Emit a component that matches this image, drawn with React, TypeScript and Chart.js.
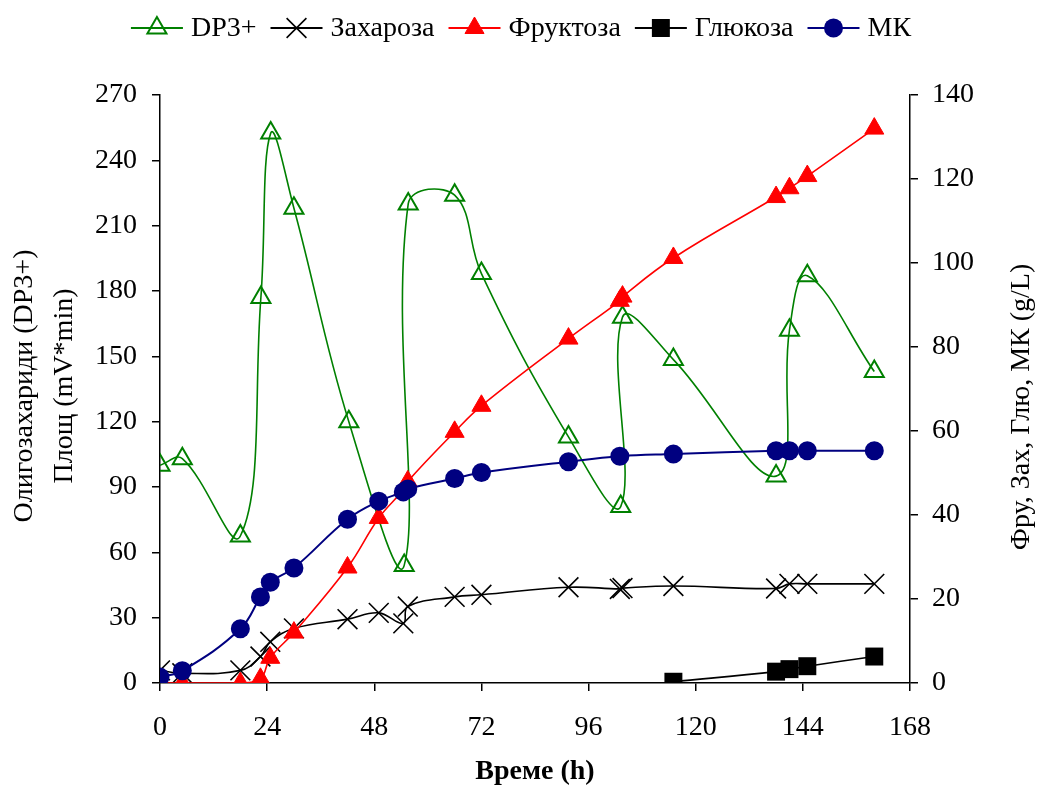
import React, { useEffect, useRef } from "react";
import { Chart, registerables } from "chart.js";

Chart.register(...registerables);

// Time axis (hours) and per-series measurements
const dp3Hours = [0, 5, 18, 22.6, 24.8, 30, 42.3, 54.7, 55.6, 66, 72, 91.5, 103.2, 103.6, 115, 138, 141, 145, 160];
const dp3Area = [100, 103, 67.5, 177, 252.5, 218, 120, 54, 220, 224, 188, 113, 81, 168, 148.5, 95, 162, 187, 143];

const sucroseHours = [0, 5, 18, 22.5, 24.7, 30, 42, 49, 54.5, 55.5, 66, 72, 91.5, 103, 103.6, 115, 138, 141, 145, 160];
const sucrose = [3, 2.3, 3, 6.3, 9.8, 13, 15.2, 16.7, 14.2, 18.2, 20.5, 21, 22.8, 22.4, 22.6, 23.1, 22.5, 23.6, 23.6, 23.6];

const fructoseHours = [0, 5, 18, 22.5, 24.7, 30, 42, 49, 54.5, 55.5, 66, 72, 91.5, 103, 103.6, 115, 138, 141, 145, 160];
const fructose = [0, 0, 0, 1, 6, 12, 27.5, 39.3, 46, 48, 59.8, 66, 82, 91, 92, 101.2, 115.7, 117.8, 120.7, 132];

const glucoseHours = [115, 138, 141, 145, 160];
const glucose = [0.3, 2.7, 3.3, 4, 6.3];

const mkHours = [0, 5, 18, 22.5, 24.7, 30, 42, 49, 54.5, 55.5, 66, 72, 91.5, 103, 115, 138, 141, 145, 160];
const mk = [1.4, 2.9, 12.9, 20.5, 24, 27.4, 39, 43.3, 45.5, 46.2, 48.7, 50.1, 52.7, 54, 54.5, 55.3, 55.3, 55.3, 55.3];

const seriesNames = ["DP3+", "Захароза", "Фруктоза", "Глюкоза", "МК"];
const leftTitle = ["Олигозахариди (DP3+)", "Площ (mV*min)"];
const rightTitle = "Фру, Зах, Глю, МК (g/L)";
const xTitle = "Време (h)";

const FONT = "'Liberation Serif', 'Times New Roman', serif";
const GREEN = "#008000";
const RED = "#ff0000";
const NAVY = "#000080";
const BLACK = "#000000";

const toPoints = (hours: number[], values: number[]) =>
  hours.map((h, i) => ({ x: h, y: values[i] }));

type MarkerStyle = {
  shape: "triangle" | "crossRot" | "rect" | "circle";
  color: string;
  fill: string;
  radius: number;
  lineWidth: number;
};

const markers: MarkerStyle[] = [
  { shape: "triangle", color: GREEN, fill: "rgba(0,0,0,0)", radius: 11, lineWidth: 2 },
  { shape: "crossRot", color: BLACK, fill: BLACK, radius: 14, lineWidth: 1.6 },
  { shape: "triangle", color: RED, fill: RED, radius: 11, lineWidth: 1 },
  { shape: "rect", color: BLACK, fill: BLACK, radius: 12.7, lineWidth: 1 },
  { shape: "circle", color: NAVY, fill: NAVY, radius: 9.5, lineWidth: 1 },
];

function drawMarker(ctx: CanvasRenderingContext2D, m: MarkerStyle, x: number, y: number) {
  ctx.save();
  ctx.strokeStyle = m.color;
  ctx.fillStyle = m.fill;
  ctx.lineWidth = m.lineWidth;
  ctx.beginPath();
  const r = m.radius;
  if (m.shape === "triangle") {
    ctx.moveTo(x, y - r);
    ctx.lineTo(x + r * 0.866, y + r / 2);
    ctx.lineTo(x - r * 0.866, y + r / 2);
    ctx.closePath();
    ctx.fill();
    ctx.stroke();
  } else if (m.shape === "crossRot") {
    const d = r * Math.SQRT1_2;
    ctx.moveTo(x - d, y - d);
    ctx.lineTo(x + d, y + d);
    ctx.moveTo(x - d, y + d);
    ctx.lineTo(x + d, y - d);
    ctx.stroke();
  } else if (m.shape === "rect") {
    const s = r * Math.SQRT1_2;
    ctx.rect(x - s, y - s, 2 * s, 2 * s);
    ctx.fill();
  } else {
    ctx.arc(x, y, r, 0, Math.PI * 2);
    ctx.fill();
  }
  ctx.restore();
}

const lineColors = [GREEN, BLACK, RED, BLACK, NAVY];

// Legend across the top and the axis titles
const decorPlugin = {
  id: "decor",
  afterDraw(chart: Chart) {
    const ctx = chart.ctx;
    const area = chart.chartArea;
    ctx.save();
    ctx.fillStyle = BLACK;
    ctx.textBaseline = "middle";

    // legend
    ctx.font = `28px ${FONT}`;
    const lineLen = 52;
    const textGap = 8;
    const itemGap = 14;
    const widths = seriesNames.map((n) => ctx.measureText(n).width);
    const total = widths.reduce((a, w) => a + lineLen + textGap + w, 0) + itemGap * (seriesNames.length - 1);
    let x = 521 - total / 2;
    const ly = 28;
    seriesNames.forEach((name, i) => {
      ctx.strokeStyle = lineColors[i];
      ctx.lineWidth = 1.8;
      ctx.beginPath();
      ctx.moveTo(x, ly);
      ctx.lineTo(x + lineLen, ly);
      ctx.stroke();
      drawMarker(ctx, markers[i], x + lineLen / 2, ly);
      ctx.fillStyle = BLACK;
      ctx.textAlign = "left";
      ctx.fillText(name, x + lineLen + textGap, ly + 1);
      x += lineLen + textGap + widths[i] + itemGap;
    });

    const midY = (area.top + area.bottom) / 2;

    // left title, two lines
    ctx.save();
    ctx.translate(25, midY - 3);
    ctx.rotate(-Math.PI / 2);
    ctx.textAlign = "center";
    ctx.fillText(leftTitle[0], 0, 0);
    ctx.fillText(leftTitle[1], 0, 40);
    ctx.restore();

    // right title
    ctx.save();
    ctx.translate(1022, midY + 18);
    ctx.rotate(-Math.PI / 2);
    ctx.textAlign = "center";
    ctx.fillText(rightTitle, 0, 0);
    ctx.restore();

    // x title
    ctx.font = `bold 28px ${FONT}`;
    ctx.textAlign = "center";
    ctx.fillText(xTitle, (area.left + area.right) / 2, 772);

    ctx.restore();
  },
};

export default function App() {
  const canvasRef = useRef<HTMLCanvasElement | null>(null);

  useEffect(() => {
    const canvas = canvasRef.current;
    if (!canvas) return;

    const datasets: any[] = [
      { label: seriesNames[0], data: toPoints(dp3Hours, dp3Area), yAxisID: "y", order: 5 },
      { label: seriesNames[1], data: toPoints(sucroseHours, sucrose), yAxisID: "y1", order: 4 },
      { label: seriesNames[2], data: toPoints(fructoseHours, fructose), yAxisID: "y1", order: 3 },
      { label: seriesNames[3], data: toPoints(glucoseHours, glucose), yAxisID: "y1", order: 2 },
      { label: seriesNames[4], data: toPoints(mkHours, mk), yAxisID: "y1", order: 1 },
    ].map((d, i) => ({
      ...d,
      borderColor: lineColors[i],
      borderWidth: i === 4 ? 2 : 1.6,
      backgroundColor: markers[i].fill,
      pointStyle: markers[i].shape,
      pointRadius: markers[i].radius,
      pointBorderColor: markers[i].color,
      pointBackgroundColor: markers[i].fill,
      pointBorderWidth: markers[i].shape === "rect" || markers[i].shape === "circle" ? 0 : markers[i].lineWidth,
      tension: 0.4,
      fill: false,
    }));

    const tickFont = { family: FONT, size: 28 };
    const axisCommon = {
      grid: { drawOnChartArea: false, drawTicks: true, tickLength: 8, color: BLACK, lineWidth: 1.5 },
      border: { color: BLACK, width: 1.5 },
    };

    const chart = new Chart(canvas, {
      type: "line",
      data: { datasets },
      options: {
        animation: false,
        responsive: true,
        maintainAspectRatio: false,
        devicePixelRatio: 1,
        layout: { padding: { top: 95, left: 0, right: 0, bottom: 0 } },
        plugins: { legend: { display: false }, tooltip: { enabled: false } },
        scales: {
          x: {
            type: "linear",
            min: 0,
            max: 168,
            ...axisCommon,
            ticks: { stepSize: 24, color: BLACK, font: tickFont, padding: 20, maxRotation: 0 },
            afterFit: (s: any) => {
              s.height = 106;
            },
          },
          y: {
            type: "linear",
            position: "left",
            min: 0,
            max: 270,
            ...axisCommon,
            ticks: { stepSize: 30, color: BLACK, font: tickFont, padding: 15 },
            afterFit: (s: any) => {
              s.width = 160;
            },
          },
          y1: {
            type: "linear",
            position: "right",
            min: 0,
            max: 140,
            ...axisCommon,
            ticks: { stepSize: 20, color: BLACK, font: tickFont, padding: 14 },
            afterFit: (s: any) => {
              s.width = 128;
            },
          },
        },
      } as any,
      plugins: [decorPlugin as any],
    });

    return () => chart.destroy();
  }, []);

  return (
    <div style={{ position: "fixed", left: 0, top: 0, width: 1038, height: 789, background: "#fff" }}>
      <canvas ref={canvasRef} />
    </div>
  );
}
